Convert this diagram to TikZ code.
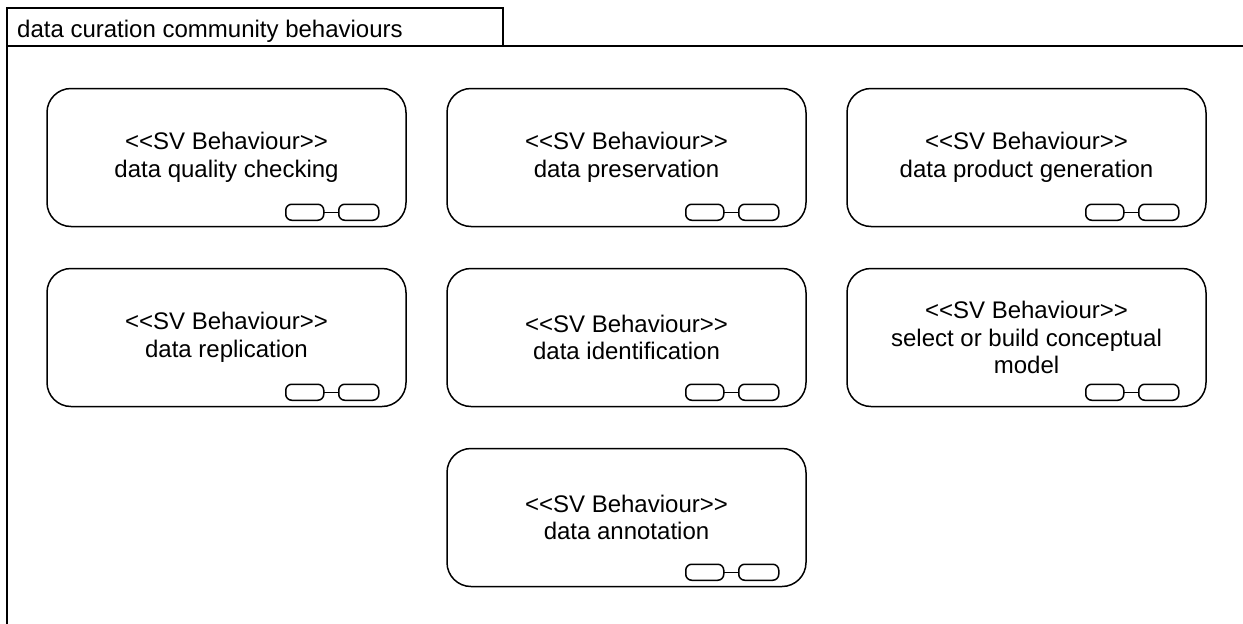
\documentclass[tikz,border=0pt]{standalone}
\usepackage{fontspec}
\setmainfont{Liberation Sans}
\usetikzlibrary{calc}
% keep << and >> apart, so no guillemets
\newcommand\svstereo{<\kern0pt<SV Behaviour>\kern0pt>}

\begin{document}
\begin{tikzpicture}[x=1pt,y=-1pt,
    behaviour/.style={draw,line width=1.5pt,rounded corners=24pt,minimum width=359pt,minimum height=138pt,inner sep=0pt,align=center,font=\fontsize{24}{27.5}\selectfont},
    pill/.style={draw,line width=1.5pt,rounded corners=6pt}]
    \useasboundingbox (0,0) rectangle (1243,624);

    % frame with its name tab
    \draw[line width=1.8pt] (7,624) -- (7,8) -- (503,8) -- (503,46);
    \draw[line width=1.8pt] (7,46) -- (1243,46);
    \node[anchor=base west,inner sep=0pt,font=\fontsize{24}{27.5}\selectfont] (title) at (17,37) {data curation community behaviours};

    \node[behaviour] (quality) at (226.5,157.5) {\svstereo\\data quality checking};
    \node[behaviour] (preservation) at (626.5,157.5) {\svstereo\\data preservation};
    \node[behaviour] (product) at (1026.5,157.5) {\svstereo\\data product generation};
    \node[behaviour] (replication) at (226.5,337.5) {\svstereo\\data replication};
    \node[behaviour] (identification) at (626.5,337.5) {\svstereo\\data identification};
    \node[behaviour] (model) at (1026.5,337.5) {\svstereo\\select or build conceptual\\model};
    \node[behaviour] (annotation) at (626.5,517.5) {\svstereo\\data annotation};

    % behaviour icons
    \foreach \n in {quality,preservation,product,replication,identification,model,annotation} {
      \draw[pill] ($(\n.south east)+(-121,-23)$) rectangle ($(\n.south east)+(-83,-7)$);
      \draw[pill] ($(\n.south east)+(-68,-23)$) rectangle ($(\n.south east)+(-28,-7)$);
      \draw[line width=1.5pt] ($(\n.south east)+(-83,-15)$) -- ($(\n.south east)+(-68,-15)$);
    }
  \end{tikzpicture}
\end{document}
